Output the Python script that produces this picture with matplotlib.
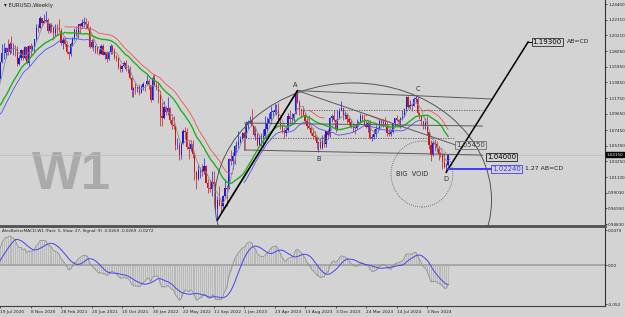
import numpy as np
import pandas as pd
import matplotlib
matplotlib.use('Agg')
import matplotlib.pyplot as plt
from matplotlib.patches import Ellipse

# weekly EURUSD candles, week 0 = 19 Jul 2020; the first 20 weeks are only warm-up for the indicators
FIRST_WEEK = -20
close = [
    1.1285, 1.1105, 1.0695, 1.1140, 1.0800, 1.0935, 1.0875, 1.0820,
    1.0985, 1.0840, 1.0820, 1.0905, 1.1100, 1.1290, 1.1255, 1.1180, 1.1220, 1.1250, 1.1300, 1.1428,
    1.1655, 1.1778, 1.1787, 1.1842, 1.1795, 1.1903, 1.1838, 1.1845, 1.1838, 1.1632,
    1.1714, 1.1825, 1.1717, 1.1860, 1.1646, 1.1875, 1.1833, 1.1856, 1.1963, 1.2122,
    1.2111, 1.2255, 1.2187, 1.2216, 1.2221, 1.2081, 1.2169, 1.2136, 1.2045, 1.2119,
    1.2118, 1.2075, 1.1915, 1.1950, 1.1905, 1.1795, 1.1762, 1.1900, 1.1983, 1.2097,
    1.2020, 1.2165, 1.2143, 1.2180, 1.2193, 1.2166, 1.2105, 1.1860, 1.1935, 1.1865,
    1.1875, 1.1807, 1.1772, 1.1870, 1.1761, 1.1795, 1.1700, 1.1795, 1.1880, 1.1813,
    1.1725, 1.1720, 1.1596, 1.1573, 1.1600, 1.1645, 1.1560, 1.1567, 1.1445, 1.1290,
    1.1317, 1.1315, 1.1318, 1.1239, 1.1323, 1.1370, 1.1360, 1.1410, 1.1345, 1.1145,
    1.1450, 1.1350, 1.1320, 1.1270, 1.0930, 1.0910, 1.1050, 1.0985, 1.1045, 1.0875,
    1.0810, 1.0795, 1.0545, 1.0550, 1.0410, 1.0560, 1.0733, 1.0720, 1.0520, 1.0490,
    1.0555, 1.0425, 1.0185, 1.0085, 1.0210, 1.0225, 1.0180, 1.0260, 1.0040, 0.9965,
    0.9955, 1.0045, 1.0015, 0.9690, 0.9800, 0.9740, 0.9720, 0.9860, 0.9965, 0.9960,
    1.0355, 1.0325, 1.0400, 1.0535, 1.0540, 1.0585, 1.0620, 1.0705, 1.0645, 1.0830,
    1.0860, 1.0870, 1.0800, 1.0680, 1.0695, 1.0545, 1.0635, 1.0640, 1.0670, 1.0760,
    1.0840, 1.0900, 1.0990, 1.0990, 1.1015, 1.1020, 1.0850, 1.0805, 1.0720, 1.0710,
    1.0750, 1.0940, 1.0895, 1.0910, 1.0965, 1.1230, 1.1125, 1.1015, 1.1005, 1.0945,
    1.0870, 1.0795, 1.0775, 1.0700, 1.0660, 1.0650, 1.0573, 1.0585, 1.0510, 1.0595,
    1.0565, 1.0730, 1.0685, 1.0910, 1.0940, 1.0885, 1.0760, 1.0895, 1.1010, 1.1040,
    1.0940, 1.0950, 1.0895, 1.0850, 1.0785, 1.0785, 1.0775, 1.0820, 1.0838, 1.0940,
    1.0890, 1.0808, 1.0790, 1.0838, 1.0640, 1.0655, 1.0695, 1.0760, 1.0770, 1.0870,
    1.0845, 1.0850, 1.0800, 1.0700, 1.0690, 1.0715, 1.0840, 1.0905, 1.0880, 1.0855,
    1.0910, 1.0915, 1.1025, 1.1190, 1.1050, 1.1085, 1.1075, 1.1165, 1.1165, 1.0975,
    1.0935, 1.0865, 1.0795, 1.0835, 1.0720, 1.0540, 1.0415, 1.0575, 1.0565, 1.0500,
    1.0430, 1.0425, 1.0310, 1.0245, 1.0272, 1.0415,
]
high = [
    1.1355, 1.1495, 1.1150, 1.1147, 1.1040, 1.0952, 1.0990, 1.0890,
    1.0990, 1.0980, 1.0875, 1.0975, 1.1145, 1.1385, 1.1422, 1.1350, 1.1350, 1.1300, 1.1370, 1.1450,
    1.1660, 1.1909, 1.1916, 1.1866, 1.1966, 1.1928, 1.2011, 1.1917, 1.1883, 1.1873,
    1.1755, 1.1830, 1.1830, 1.1881, 1.1870, 1.1891, 1.1920, 1.1893, 1.1964, 1.2177,
    1.2165, 1.2273, 1.2250, 1.2310, 1.2349, 1.2251, 1.2190, 1.2190, 1.2150, 1.2169,
    1.2169, 1.2243, 1.2113, 1.1990, 1.1990, 1.1943, 1.1810, 1.1927, 1.1995, 1.2116,
    1.2150, 1.2168, 1.2181, 1.2245, 1.2266, 1.2254, 1.2218, 1.2145, 1.1975, 1.1975,
    1.1895, 1.1880, 1.1840, 1.1909, 1.1900, 1.1800, 1.1805, 1.1802, 1.1909, 1.1885,
    1.1850, 1.1754, 1.1720, 1.1640, 1.1625, 1.1669, 1.1692, 1.1616, 1.1613, 1.1464,
    1.1330, 1.1383, 1.1355, 1.1360, 1.1345, 1.1386, 1.1368, 1.1483, 1.1435, 1.1345,
    1.1483, 1.1495, 1.1395, 1.1395, 1.1275, 1.1120, 1.1137, 1.1075, 1.1185, 1.1053,
    1.0957, 1.0936, 1.0810, 1.0642, 1.0590, 1.0590, 1.0765, 1.0787, 1.0775, 1.0600,
    1.0606, 1.0615, 1.0450, 1.0200, 1.0278, 1.0255, 1.0293, 1.0368, 1.0275, 1.0090,
    1.0080, 1.0198, 1.0197, 1.0050, 0.9855, 0.9999, 0.9809, 0.9870, 1.0094, 1.0005,
    1.0365, 1.0480, 1.0450, 1.0545, 1.0595, 1.0736, 1.0660, 1.0714, 1.0713, 1.0868,
    1.0887, 1.0929, 1.1033, 1.0800, 1.0805, 1.0700, 1.0695, 1.0700, 1.0760, 1.0930,
    1.0925, 1.0970, 1.1075, 1.1010, 1.1095, 1.1092, 1.1107, 1.0905, 1.0830, 1.0780,
    1.0785, 1.0970, 1.1012, 1.0975, 1.0970, 1.1245, 1.1276, 1.1150, 1.1045, 1.1065,
    1.0988, 1.0930, 1.0945, 1.0800, 1.0770, 1.0735, 1.0660, 1.0575, 1.0640, 1.0675,
    1.0695, 1.0730, 1.0755, 1.0915, 1.0965, 1.1017, 1.0895, 1.1009, 1.1045, 1.1140,
    1.1045, 1.0998, 1.0975, 1.0930, 1.0895, 1.0810, 1.0805, 1.0888, 1.0865, 1.0980,
    1.0963, 1.0942, 1.0865, 1.0885, 1.0885, 1.0690, 1.0755, 1.0810, 1.0790, 1.0895,
    1.0895, 1.0890, 1.0915, 1.0850, 1.0760, 1.0760, 1.0845, 1.0910, 1.0950, 1.0900,
    1.0925, 1.1010, 1.1045, 1.1200, 1.1202, 1.1155, 1.1100, 1.1190, 1.1214, 1.1210,
    1.0995, 1.0945, 1.0870, 1.0905, 1.0935, 1.0720, 1.0610, 1.0595, 1.0630, 1.0595,
    1.0535, 1.0455, 1.0440, 1.0437, 1.0300, 1.0430,
]
low = [
    1.1000, 1.1055, 1.0636, 1.0640, 1.0780, 1.0770, 1.0810, 1.0730,
    1.0810, 1.0780, 1.0775, 1.0780, 1.0870, 1.1095, 1.1240, 1.1170, 1.1170, 1.1185, 1.1185, 1.1255,
    1.1430, 1.1645, 1.1696, 1.1711, 1.1753, 1.1763, 1.1780, 1.1753, 1.1737, 1.1612,
    1.1625, 1.1686, 1.1689, 1.1702, 1.1640, 1.1603, 1.1745, 1.1808, 1.1801, 1.1925,
    1.2060, 1.2125, 1.2130, 1.2180, 1.2195, 1.2053, 1.2053, 1.2057, 1.1952, 1.2010,
    1.2023, 1.2070, 1.1893, 1.1836, 1.1873, 1.1762, 1.1704, 1.1743, 1.1870, 1.1960,
    1.2010, 1.1986, 1.2050, 1.2115, 1.2130, 1.2104, 1.2093, 1.1847, 1.1847, 1.1807,
    1.1782, 1.1772, 1.1752, 1.1770, 1.1756, 1.1705, 1.1664, 1.1690, 1.1770, 1.1770,
    1.1700, 1.1680, 1.1563, 1.1529, 1.1524, 1.1590, 1.1535, 1.1513, 1.1432, 1.1186,
    1.1185, 1.1235, 1.1260, 1.1222, 1.1264, 1.1279, 1.1272, 1.1350, 1.1291, 1.1121,
    1.1155, 1.1340, 1.1280, 1.1106, 1.0805, 1.0805, 1.0900, 1.0945, 1.0945, 1.0837,
    1.0757, 1.0760, 1.0471, 1.0490, 1.0350, 1.0355, 1.0560, 1.0627, 1.0485, 1.0360,
    1.0470, 1.0365, 1.0072, 0.9952, 1.0080, 1.0097, 1.0123, 1.0160, 1.0033, 0.9900,
    0.9910, 0.9865, 0.9945, 0.9665, 0.9536, 0.9725, 0.9630, 0.9700, 0.9850, 0.9730,
    0.9950, 1.0270, 1.0225, 1.0290, 1.0440, 1.0500, 1.0570, 1.0620, 1.0480, 1.0670,
    1.0765, 1.0835, 1.0795, 1.0670, 1.0615, 1.0535, 1.0533, 1.0525, 1.0515, 1.0650,
    1.0715, 1.0835, 1.0830, 1.0910, 1.0960, 1.0942, 1.0845, 1.0760, 1.0705, 1.0635,
    1.0665, 1.0730, 1.0845, 1.0835, 1.0835, 1.0960, 1.1110, 1.0945, 1.0912, 1.0930,
    1.0845, 1.0765, 1.0765, 1.0685, 1.0630, 1.0615, 1.0490, 1.0448, 1.0495, 1.0495,
    1.0520, 1.0515, 1.0655, 1.0655, 1.0850, 1.0865, 1.0723, 1.0745, 1.0890, 1.1000,
    1.0877, 1.0900, 1.0845, 1.0820, 1.0780, 1.0722, 1.0695, 1.0760, 1.0795, 1.0835,
    1.0860, 1.0800, 1.0775, 1.0725, 1.0620, 1.0601, 1.0625, 1.0650, 1.0725, 1.0765,
    1.0805, 1.0790, 1.0800, 1.0670, 1.0670, 1.0665, 1.0710, 1.0790, 1.0870, 1.0825,
    1.0775, 1.0880, 1.0915, 1.1000, 1.1040, 1.1025, 1.1000, 1.1070, 1.1120, 1.0950,
    1.0900, 1.0810, 1.0760, 1.0760, 1.0685, 1.0495, 1.0335, 1.0400, 1.0460, 1.0450,
    1.0345, 1.0385, 1.0226, 1.0240, 1.0178, 1.0265,
]
current_price = 1.04150

date_labels = ['19 Jul 2020', '8 Nov 2020', '28 Feb 2021', '20 Jun 2021', '10 Oct 2021',
               '30 Jan 2022', '22 May 2022', '11 Sep 2022', '1 Jan 2023', '23 Apr 2023',
               '13 Aug 2023', '3 Dec 2023', '24 Mar 2024', '14 Jul 2024', '3 Nov 2024']
price_ticks = [1.24400, 1.22310, 1.20210, 1.18050, 1.15950, 1.13850, 1.11750, 1.09650,
               1.07450, 1.05350, 1.03250, 1.01130, 0.99030, 0.96930, 0.94830]
macd_ticks = [0.0479, 0.0, -0.052]
macd_tick_labels = ['0.0479', '0.00', '-0.052']

# pattern points (week, price)
X_PT = (114, 0.9536)
X2_PT = (116, 0.9630)
A_PT = (156, 1.1276)
B_PT = (167, 1.0448)
C_PT = (218, 1.1214)
D_PT = (234, 1.0178)
TARGET = (277, 1.1930)
level_1054 = (239, 1.0545)
level_104 = ((128.3, 1.0478), (253, 1.0410))
level_top = ((156, 1.1276), (258.3, 1.1163))
level_mid = ((128.3, 1.0840), (253, 1.0800))
dotted_1 = ((158, 253), 1.1015)
dotted_2 = ((128.3, 238), 1.0640)
level_1022 = ((234.8, 257.3), 1.0224)
arc = ((185.2, 0.9806), 145.2, 0.3145)
void = ((221.3, 1.0155), 32.4, 0.0887)

# weeks where the red / blue band lines are shown
red_spans = [(34, 122), (162, 170), (191, 204), (222, 235)]
blue_spans = [(-20, 48), (128, 221)]

BG = '#d3d3d3'

c = np.array(close)
h = np.array(high)
l = np.array(low)
o = np.r_[c[0], c[:-1]]
h = np.maximum(h, np.maximum(o, c))
l = np.minimum(l, np.minimum(o, c))
wk = np.arange(len(c)) + FIRST_WEEK

s = pd.Series(c)
ma_fast = s.rolling(5, min_periods=1).mean()
ma_mid = s.rolling(20, min_periods=1).mean()
ma_hi = pd.Series(h).rolling(20, min_periods=1).mean()
ma_lo = pd.Series(l).rolling(20, min_periods=1).mean()

def spans_mask(spans):
    m = np.zeros(len(wk), bool)
    for a, b in spans:
        m |= (wk >= a) & (wk <= b)
    return m

red_line = np.where(spans_mask(red_spans), ma_hi, np.nan)
blue_line = np.where(spans_mask(blue_spans), ma_lo, np.nan)

macd = s.ewm(span=5, adjust=False).mean() - s.ewm(span=27, adjust=False).mean()
signal = macd.rolling(9, min_periods=1).mean()

W, H = 625, 317
fig = plt.figure(figsize=(6.25, 3.17), dpi=100, facecolor=BG)
ax = fig.add_axes([0, 1 - 226 / H, 605 / W, 226 / H], facecolor=BG)
axm = fig.add_axes([0, 1 - 306 / H, 605 / W, 78 / H], facecolor=BG, sharex=ax)

ax.set_xlim(1.41, 317.3)
ax.set_ylim(0.94562, 1.24938)

# candles
up = c >= o
cols = np.where(up, '#1a1ae6', '#cc1414')
ax.vlines(wk, l, h, colors=cols, lw=0.5, zorder=2)
ax.bar(wk, np.maximum(np.abs(c - o), 0.0006), bottom=np.minimum(o, c), width=0.62,
       color=cols, linewidth=0, zorder=2)

# moving averages
ax.plot(wk, ma_fast, color='#8c8c8c', lw=0.6, zorder=3)
ax.plot(wk, red_line, color='#f05050', lw=0.6, zorder=3)
ax.plot(wk, blue_line, color='#5050f0', lw=0.6, zorder=3)
ax.plot(wk, ma_mid, color='#1fb01f', lw=1.0, zorder=3)

# current price
ax.axhline(current_price, color='#c0c0c0', lw=0.6, zorder=1)

# big arc and void circle
ax.add_patch(Ellipse(arc[0], arc[1], arc[2], fill=False, ec='#555555', lw=0.7, zorder=4))
ax.add_patch(Ellipse(void[0], void[1], void[2], fill=False, ec='#555555', lw=0.6,
                     ls=(0, (1, 1.5)), zorder=4))

# channel lines
line_kw = dict(color='#5a5a5a', lw=0.7, zorder=4)
ax.plot(*zip(*level_top), **line_kw)
ax.plot(*zip(*level_104), **line_kw)
ax.plot(*zip(*level_mid), **line_kw)
ax.plot([level_104[0][0]] * 2, [level_104[0][1], level_mid[0][1]], color='#6a6a6a', lw=0.5, zorder=4)
ax.plot([A_PT[0], level_1054[0]], [A_PT[1], level_1054[1]], **line_kw)
ax.plot(dotted_1[0], [dotted_1[1]] * 2, color='#555555', lw=0.6, ls=(0, (1.5, 1.5)), zorder=4)
ax.plot(dotted_2[0], [dotted_2[1]] * 2, color='#555555', lw=0.6, ls=(0, (1.5, 1.5)), zorder=4)

# AB=CD legs
ax.plot([X_PT[0], A_PT[0]], [X_PT[1], A_PT[1]], color='black', lw=1.1, zorder=5)
ax.plot([X2_PT[0], A_PT[0]], [X2_PT[1], A_PT[1]], color='black', lw=0.7, zorder=5)
ax.plot([D_PT[0], TARGET[0]], [D_PT[1], TARGET[1]], color='black', lw=1.1, zorder=5)
ax.plot([TARGET[0], TARGET[0] + 2], [TARGET[1]] * 2, color='black', lw=0.7, zorder=5)
ax.plot(level_1022[0], [level_1022[1]] * 2, color='#3c3cff', lw=1.4, zorder=5)

box_kw = dict(fontsize=5.0, ha='left', va='center', zorder=6)
ax.text(TARGET[0] + 2.3, TARGET[1], '1.19300',
        bbox=dict(boxstyle='square,pad=0.15', fc='none', ec='#303030', lw=0.6), **box_kw)
ax.text(TARGET[0] + 20.3, TARGET[1], 'AB=CD', fontsize=4.4, ha='left', va='center', color='#202020')
ax.text(level_1054[0] + 0.4, level_1054[1], '1.05450', color='#404040',
        bbox=dict(boxstyle='square,pad=0.15', fc='none', ec='#707070', lw=0.6), **box_kw)
ax.text(level_104[1][0] + 2.3, level_104[1][1] - 0.0025, '1.04000',
        bbox=dict(boxstyle='square,pad=0.15', fc='none', ec='#202020', lw=0.6), **box_kw)
ax.text(level_1022[0][1] + 0.6, level_1022[1], '1.02240', color='#3c3cff',
        bbox=dict(boxstyle='square,pad=0.15', fc='none', ec='#3c3cff', lw=0.6), **box_kw)
ax.text(level_1022[0][1] + 17.9, level_1022[1], '1.27 AB=CD', fontsize=4.4, ha='left',
        va='center', color='#202020')

lab_kw = dict(fontsize=4.8, color='#303030', ha='center', textcoords='offset points', zorder=6)
ax.annotate('A', A_PT, xytext=(-1.5, 2), va='bottom', **lab_kw)
ax.annotate('B', B_PT, xytext=(0.5, -3), va='top', **lab_kw)
ax.annotate('C', C_PT, xytext=(1.5, 2), va='bottom', **lab_kw)
ax.annotate('D', D_PT, xytext=(0, -2.5), va='top', **lab_kw)
ax.text(void[0][0] - 5, void[0][1], 'BIG  VOID', fontsize=4.8, color='#303030',
        ha='center', va='center', zorder=6)

ax.text(0.118, 0.226, 'W1', transform=ax.transAxes, fontsize=38, fontweight='bold',
        family='Liberation Sans', color='#aaaaaa', ha='center', va='center', zorder=0)
ax.text(0.006, 0.988, '\u25be EURUSD,Weekly', transform=ax.transAxes, fontsize=4.0,
        va='top', ha='left', color='#202020')

# price axis
ax.yaxis.tick_right()
ax.set_yticks(price_ticks)
ax.set_yticklabels([f'{p:.5f}' for p in price_ticks])
ax.tick_params(axis='y', labelsize=3.0, length=1.5, width=0.5, pad=0.8, colors='#202020')
ax.tick_params(axis='x', bottom=False, labelbottom=False)
ax.text(1.003, current_price, f'{current_price:.5f}', transform=ax.get_yaxis_transform(),
        fontsize=3.0, color='white', ha='left', va='center',
        bbox=dict(boxstyle='square,pad=0.2', fc='black', ec='black'))
for sp in ['top', 'left']:
    ax.spines[sp].set_visible(False)
ax.spines['right'].set_color('#303030')
ax.spines['right'].set_linewidth(0.8)
ax.spines['bottom'].set_color('#505050')
ax.spines['bottom'].set_linewidth(2.0)

# MACD panel
axm.set_ylim(-0.0547, 0.0506)
axm.vlines(wk, 0, macd, colors='#ababab', lw=0.45)
axm.axhline(0, color='#a0a0a0', lw=1.2)
axm.plot(wk, macd, color='#909090', lw=0.6)
axm.plot(wk, signal, color='#4444ee', lw=0.7)
axm.text(0.004, 0.985, 'AlexBetterMACD-W1 (Fast: 5, Slow: 27, Signal: 9) -0.0269 -0.0269 -0.0272',
         transform=axm.transAxes, fontsize=3.0, va='top', ha='left', color='#202020')
axm.yaxis.tick_right()
axm.set_yticks(macd_ticks)
axm.set_yticklabels(macd_tick_labels)
axm.tick_params(axis='y', labelsize=3.0, length=1.5, width=0.5, pad=0.8, colors='#202020')
axm.set_xticks([16 * k for k in range(len(date_labels))])
axm.set_xticklabels(date_labels)
axm.tick_params(axis='x', labelsize=3.1, length=1.5, width=0.5, pad=1.5, colors='#202020')
for t in axm.get_xticklabels():
    t.set_horizontalalignment('left')
axm.spines['top'].set_visible(False)
axm.spines['left'].set_visible(False)
axm.spines['right'].set_color('#303030')
axm.spines['right'].set_linewidth(0.8)
axm.spines['bottom'].set_color('#404040')
axm.spines['bottom'].set_linewidth(0.8)

fig.savefig('out.png', dpi=100, facecolor=BG)
